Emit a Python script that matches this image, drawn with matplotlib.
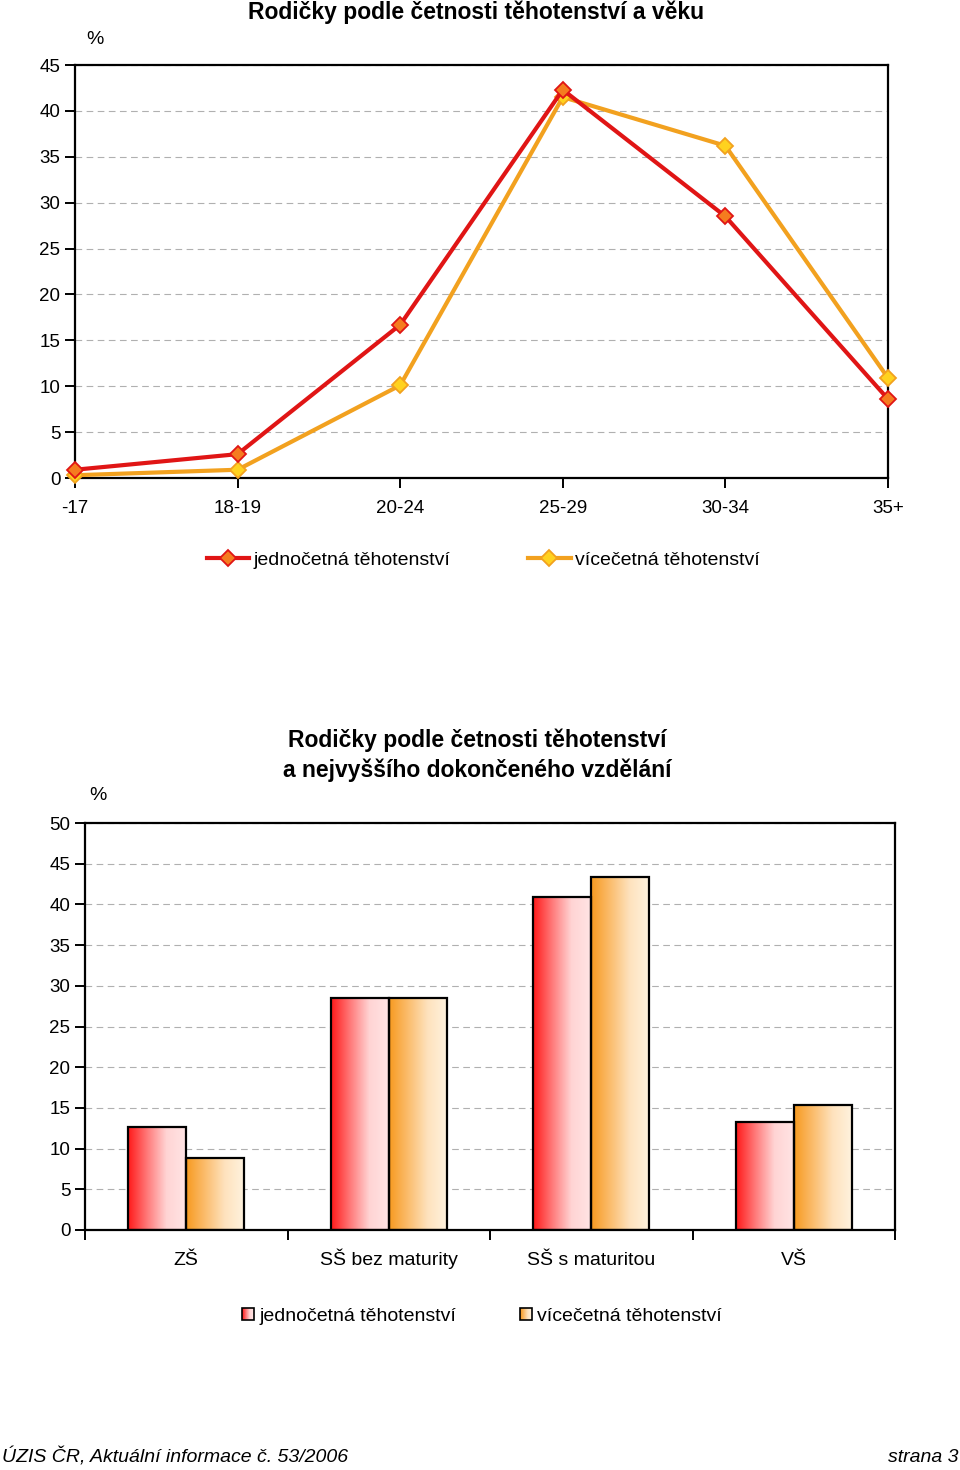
import numpy as np
import matplotlib
matplotlib.use("Agg")
import matplotlib.pyplot as plt
from matplotlib.patches import Rectangle
from matplotlib.legend_handler import HandlerBase
from matplotlib.colors import LinearSegmentedColormap

plt.rcParams["font.family"] = ["Liberation Sans", "DejaVu Sans"]

# data - vek
age_groups = ["-17", "18-19", "20-24", "25-29", "30-34", "35+"]
single_age = [0.9, 2.6, 16.7, 42.3, 28.5, 8.6]
multi_age = [0.3, 0.9, 10.1, 41.5, 36.2, 10.9]

# data - vzdelani
edu_groups = ["ZŠ", "SŠ bez maturity", "SŠ s maturitou", "VŠ"]
single_edu = [12.6, 28.5, 40.9, 13.3]
multi_edu = [8.8, 28.5, 43.4, 15.4]

series_names = ["jednočetná těhotenství", "vícečetná těhotenství"]

RED = "#e01515"
ORANGE = "#f2a11f"
red_cmap = LinearSegmentedColormap.from_list("r", ["#ff1a1a", "#ff7a7a", "#ffd4d4", "#ffe4e4"])
orange_cmap = LinearSegmentedColormap.from_list("o", ["#f79a20", "#fbbd6e", "#fee2bd", "#fff2de"])

fig = plt.figure(figsize=(9.6, 14.7), dpi=100)


def style_axes(ax, ymax, ystep):
    ax.set_ylim(0, ymax)
    ax.set_yticks(np.arange(0, ymax + 1, ystep))
    ax.yaxis.grid(True, linestyle=(0, (6, 4)), color="#b0b0b0", linewidth=0.8)
    ax.set_axisbelow(True)
    for s in ax.spines.values():
        s.set_linewidth(1.6)
        s.set_color("black")
    ax.tick_params(axis="both", direction="out", length=7, width=1.4, labelsize=13.5)
    ax.tick_params(axis="x", pad=9)


# ---- horni graf ----
ax1 = fig.add_axes([75 / 960, 1 - 478 / 1470, 813 / 960, 413 / 1470])
x = np.arange(len(age_groups))
ax1.plot(x, single_age, color=RED, lw=3, marker="D", ms=8, mfc="#f57c1f", mec=RED, mew=1.3,
         clip_on=False, zorder=4, label=series_names[0])
ax1.plot(x, multi_age, color=ORANGE, lw=3, marker="D", ms=8, mfc="#ffd21f", mec=ORANGE, mew=1.3,
         clip_on=False, zorder=3, label=series_names[1])
ax1.set_xlim(0, len(age_groups) - 1)
ax1.set_xticks(x)
ax1.set_xticklabels(age_groups)
style_axes(ax1, 45, 5)
fig.text(476 / 960, 1 - 12 / 1470, "Rodičky podle četnosti těhotenství a věku", ha="center", va="center",
         fontsize=16.5, fontweight="bold")
fig.text(95 / 960, 1 - 40 / 1470, "%", ha="center", va="center", fontsize=14)
h, l = ax1.get_legend_handles_labels()
fig.legend(h, l, loc="center", bbox_to_anchor=(483 / 960, 1 - 560 / 1470), ncol=2, frameon=False,
           fontsize=14, handlelength=2.2, handletextpad=0.2, columnspacing=4)

# ---- dolni graf ----
ax2 = fig.add_axes([85 / 960, 1 - 1230 / 1470, 810 / 960, 407 / 1470])
xe = np.arange(len(edu_groups))
w = 0.286
gradient = np.linspace(0, 1, 256).reshape(1, -1)
for vals, off, cmap in [(single_edu, -w / 2, red_cmap), (multi_edu, w / 2, orange_cmap)]:
    bars = ax2.bar(xe + off, vals, width=w, facecolor="none", edgecolor="black", linewidth=1.6, zorder=3)
    for b in bars:
        ax2.imshow(gradient, cmap=cmap, aspect="auto", zorder=2,
                   extent=[b.get_x(), b.get_x() + b.get_width(), 0, b.get_height()])
ax2.set_xlim(-0.5, len(edu_groups) - 0.5)
ax2.set_xticks(np.arange(-0.5, len(edu_groups)), minor=False)
ax2.set_xticklabels([])
ax2.set_xticks(xe, minor=True)
ax2.set_xticklabels(edu_groups, minor=True)
style_axes(ax2, 50, 5)
ax2.tick_params(axis="x", which="minor", length=0, labelsize=14, pad=25)
for lbl in ax2.get_xticklabels(minor=True):
    lbl.set_va("baseline")
fig.text(477 / 960, 1 - 740 / 1470, "Rodičky podle četnosti těhotenství", ha="center", va="center",
         fontsize=16.5, fontweight="bold")
fig.text(477 / 960, 1 - 770 / 1470, "a nejvyššího dokončeného vzdělání", ha="center", va="center",
         fontsize=16.5, fontweight="bold")
fig.text(98 / 960, 1 - 795 / 1470, "%", ha="center", va="center", fontsize=14)


class GradientHandler(HandlerBase):
    def __init__(self, cmap):
        super().__init__()
        self.cmap = cmap

    def create_artists(self, legend, orig, xd, yd, width, height, fontsize, trans):
        s = height * 0.9
        x0 = xd + width - s
        y0 = yd + (height - s) / 2
        n = 12
        arts = []
        for i in range(n):
            arts.append(Rectangle((x0 + i * s / n, y0), s / n, s, facecolor=self.cmap(i / (n - 1)),
                                  edgecolor="none", transform=trans))
        arts.append(Rectangle((x0, y0), s, s, facecolor="none", edgecolor="black", lw=1.2, transform=trans))
        return arts


p1 = Rectangle((0, 0), 1, 1)
p2 = Rectangle((0, 0), 1, 1)
fig.legend([p1, p2], series_names, loc="center", bbox_to_anchor=(481 / 960, 1 - 1316 / 1470), ncol=2,
           frameon=False, fontsize=14, handlelength=0.7, handletextpad=0.25, columnspacing=3.2,
           handler_map={p1: GradientHandler(red_cmap), p2: GradientHandler(orange_cmap)})

# paticka
fig.text(0.002, 1 - 1457 / 1470, "ÚZIS ČR, Aktuální informace č. 53/2006", ha="left", va="center",
         fontsize=14, style="italic")
fig.text(0.998, 1 - 1457 / 1470, "strana 3", ha="right", va="center", fontsize=14, style="italic")

fig.savefig("out.png", dpi=100)
